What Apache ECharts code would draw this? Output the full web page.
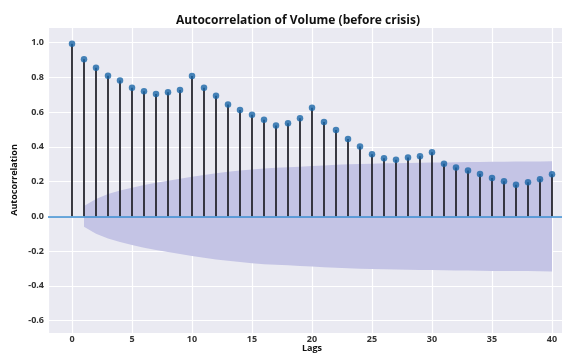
<!DOCTYPE html>
<html>
<head>
<meta charset="utf-8">
<title>Autocorrelation of Volume (before crisis)</title>
<script src="https://cdn.jsdelivr.net/npm/echarts@6/dist/echarts.min.js"></script>
<style>
  html, body { margin: 0; padding: 0; background: #fff; }
  #chart { width: 562px; height: 353px; }
</style>
</head>
<body>
<div id="chart"></div>
<script>
// lags 0..40 and the acf value at each lag
const lags = [0, 1, 2, 3, 4, 5, 6, 7, 8, 9, 10, 11, 12, 13, 14, 15, 16, 17, 18, 19, 20,
  21, 22, 23, 24, 25, 26, 27, 28, 29, 30, 31, 32, 33, 34, 35, 36, 37, 38, 39, 40]
const acfValues = [0.992, 0.904, 0.854, 0.808, 0.781, 0.739, 0.720, 0.704, 0.714, 0.727, 0.807,
  0.739, 0.693, 0.643, 0.612, 0.585, 0.555, 0.522, 0.535, 0.564, 0.624,
  0.542, 0.497, 0.445, 0.401, 0.357, 0.334, 0.325, 0.338, 0.345, 0.368,
  0.302, 0.281, 0.263, 0.244, 0.221, 0.202, 0.182, 0.196, 0.213, 0.242]

// confidence band half-width, lags 1..40
const bandLags = [1, 2, 3, 4, 5, 6, 7, 8, 9, 10, 11, 12, 13, 14, 15, 16, 17, 18, 19, 20,
  21, 22, 23, 24, 25, 26, 27, 28, 29, 30, 31, 32, 33, 34, 35, 36, 37, 38, 39, 40]
const bandWidth = [0.060, 0.100, 0.128, 0.148, 0.165, 0.180, 0.193, 0.205, 0.216, 0.228,
  0.238, 0.248, 0.256, 0.263, 0.270, 0.275, 0.279, 0.282, 0.285, 0.289,
  0.293, 0.296, 0.299, 0.301, 0.303, 0.305, 0.306, 0.307, 0.308, 0.309,
  0.310, 0.311, 0.312, 0.313, 0.314, 0.314, 0.315, 0.315, 0.316, 0.317]

const chart = echarts.init(document.getElementById('chart'))

const points = lags.map((l, i) => [l, acfValues[i]])
const bandUpper = bandLags.map((l, i) => [l, bandWidth[i]])
const bandLower = bandLags.map((l, i) => [l, -bandWidth[i]])

const labelStyle = { color: '#333', fontSize: 9, fontWeight: 'bold', fontFamily: 'Open Sans' }
const nameStyle = { color: '#111', fontSize: 9, fontWeight: 'bold', fontFamily: 'Open Sans' }
const bandColor = '#c4c4e5'

chart.setOption({
  animation: false,
  title: {
    text: 'Autocorrelation of Volume (before crisis)',
    left: 293,
    top: 10,
    textAlign: 'center',
    textStyle: { fontSize: 12, fontWeight: 'bold', color: '#111', fontFamily: 'Open Sans' }
  },
  // the plot area runs on past the right edge of the picture (x to lag 42)
  grid: {
    left: 48, top: 27, width: 528, height: 306,
    outerBoundsMode: 'none', containLabel: false,
    backgroundColor: '#eaeaf2', show: true, borderWidth: 0
  },
  xAxis: {
    type: 'value',
    min: -2,
    max: 42,
    minInterval: 5,
    maxInterval: 5,
    name: 'Lags',
    nameLocation: 'middle',
    nameGap: 11,
    nameMoveOverlap: false,
    nameTextStyle: nameStyle,
    axisLine: { show: false },
    axisTick: { show: false },
    axisLabel: { ...labelStyle, margin: 2, showMinLabel: false, showMaxLabel: false },
    splitLine: { show: true, lineStyle: { color: '#ffffff', width: 1.2 } }
  },
  yAxis: {
    type: 'value',
    min: -0.671,
    max: 1.089,
    minInterval: 0.2,
    maxInterval: 0.2,
    name: 'Autocorrelation',
    nameLocation: 'middle',
    nameGap: 29,
    nameMoveOverlap: false,
    nameTextStyle: nameStyle,
    axisLine: { show: false },
    axisTick: { show: false },
    axisLabel: { ...labelStyle, margin: 4, showMinLabel: false, showMaxLabel: false,
      formatter: v => v.toFixed(1) },
    splitLine: { show: true, lineStyle: { color: '#ffffff', width: 1.2 } }
  },
  series: [
    {
      name: 'band upper',
      type: 'line',
      data: bandUpper,
      symbol: 'none',
      lineStyle: { width: 0 },
      areaStyle: { color: bandColor, opacity: 1, origin: 0 },
      z: 1
    },
    {
      name: 'band lower',
      type: 'line',
      data: bandLower,
      symbol: 'none',
      lineStyle: { width: 0 },
      areaStyle: { color: bandColor, opacity: 1, origin: 0 },
      z: 1
    },
    {
      name: 'stems',
      type: 'bar',
      data: points,
      barWidth: 1.8,
      itemStyle: { color: '#26262e' },
      z: 2
    },
    {
      name: 'zero',
      type: 'line',
      data: [],
      markLine: {
        silent: true,
        symbol: 'none',
        label: { show: false },
        lineStyle: { color: '#3a8cd0', width: 1.5, type: 'solid' },
        data: [{ yAxis: 0 }]
      },
      z: 3
    },
    {
      name: 'acf',
      type: 'scatter',
      data: points,
      symbol: 'circle',
      symbolSize: 6.5,
      itemStyle: { color: '#1a66a8' },
      z: 4
    }
  ]
})
</script>
</body>
</html>
